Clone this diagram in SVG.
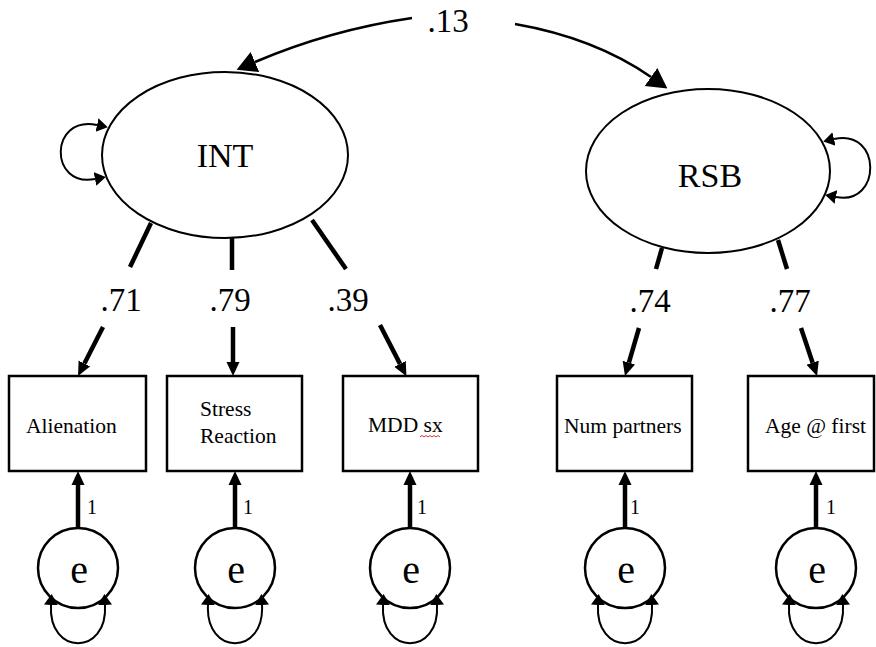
<svg xmlns="http://www.w3.org/2000/svg" width="876" height="647" viewBox="0 0 876 647">
<style>
.lat{fill:#fff;stroke:#000;stroke-width:2}
.box{fill:#fff;stroke:#000;stroke-width:2.5}
.err{fill:#fff;stroke:#000;stroke-width:2.5}
.big{font-size:34px;text-anchor:middle}
.lbl{font-size:21.5px}
.num{font-size:33px;text-anchor:middle}
.one{font-size:20px}
.ee{font-size:40px;text-anchor:middle}
.load{fill:none;stroke:#000;stroke-width:4.5}
.cov{fill:none;stroke:#000;stroke-width:2.5}
.loop{fill:none;stroke:#000;stroke-width:2}
</style>
<defs>
<marker id="ah" viewBox="0 -7 14 14" refX="0" refY="0" markerWidth="14" markerHeight="14" markerUnits="userSpaceOnUse" orient="auto"><path d="M0,-6.5 L14,0 L0,6.5 z" fill="#000"/></marker>
<marker id="ahL" viewBox="0 -12 20 24" refX="0" refY="0" markerWidth="20" markerHeight="24" markerUnits="userSpaceOnUse" orient="auto"><path d="M0,-11 L20,0 L0,11 z" fill="#000"/></marker>
<marker id="ahS" viewBox="0 -8 11 16" refX="0" refY="0" markerWidth="11" markerHeight="16" markerUnits="userSpaceOnUse" orient="auto-start-reverse"><path d="M0,-7 L11,0 L0,7 z" fill="#000"/></marker>
</defs>

<g id="connectors">
  <path class="cov" d="M412 18 Q330 30 255 62" marker-end="url(#ahL)"/>
  <path class="cov" d="M515 24 Q595 38 651 77" marker-end="url(#ahL)"/>
  <path class="loop" d="M97 125 C49 115 49 188 95 179" marker-start="url(#ahS)" marker-end="url(#ahS)"/>
  <path class="loop" d="M834 139 C882 128 882 206 836 197" marker-start="url(#ahS)" marker-end="url(#ahS)"/>
  <path class="load" d="M151 223 L130 267"/>
  <path class="load" d="M103 327 L84.4 363.5" marker-end="url(#ah)"/>
  <path class="load" d="M232 237 L232 270"/>
  <path class="load" d="M233 327 L233 362" marker-end="url(#ah)"/>
  <path class="load" d="M312 220 L346 269"/>
  <path class="load" d="M380 325 L400 363.9" marker-end="url(#ah)"/>
  <path class="load" d="M662 248 L656 269"/>
  <path class="load" d="M639 328 L628.9 362.6" marker-end="url(#ah)"/>
  <path class="load" d="M778 240 L787 269"/>
  <path class="load" d="M801 328 L812.6 362.7" marker-end="url(#ah)"/>
  <path class="load" d="M78 528 L78 485" marker-end="url(#ah)"/>
  <path class="load" d="M235 528 L235 485" marker-end="url(#ah)"/>
  <path class="load" d="M410 528 L410 485" marker-end="url(#ah)"/>
  <path class="load" d="M625 528 L625 485" marker-end="url(#ah)"/>
  <path class="load" d="M816 528 L816 485" marker-end="url(#ah)"/>
  <text class="num" x="448" y="32" font-family="Liberation Serif">.13</text>
  <text class="num" x="121" y="311" font-family="Liberation Serif">.71</text>
  <text class="num" x="230" y="311" font-family="Liberation Serif">.79</text>
  <text class="num" x="348" y="311" font-family="Liberation Serif">.39</text>
  <text class="num" x="650" y="312" font-family="Liberation Serif">.74</text>
  <text class="num" x="790" y="312" font-family="Liberation Serif">.77</text>
  <text class="one" x="87" y="514" font-family="Liberation Serif">1</text>
  <text class="one" x="243" y="514" font-family="Liberation Serif">1</text>
  <text class="one" x="417" y="514" font-family="Liberation Serif">1</text>
  <text class="one" x="630" y="514" font-family="Liberation Serif">1</text>
  <text class="one" x="826" y="514" font-family="Liberation Serif">1</text>
</g>

<g id="INT">
  <ellipse class="lat" cx="225" cy="155" rx="123" ry="83"/>
  <text class="big" x="225" y="167" font-family="Liberation Serif">INT</text>
</g>
<g id="RSB">
  <ellipse class="lat" cx="708" cy="171" rx="122" ry="82"/>
  <text class="big" x="710" y="187" font-family="Liberation Serif">RSB</text>
</g>

<g id="Alienation">
  <rect class="box" x="9" y="376" width="137" height="95"/>
  <text class="lbl" x="26" y="433" font-family="Liberation Serif">Alienation</text>
</g>
<g id="StressReaction">
  <rect class="box" x="167" y="376" width="135" height="95"/>
  <text class="lbl" x="200" y="416" font-family="Liberation Serif">Stress</text>
  <text class="lbl" x="200" y="443" font-family="Liberation Serif">Reaction</text>
</g>
<g id="MDDsx">
  <rect class="box" x="343" y="376" width="135" height="95"/>
  <text class="lbl" x="368" y="432" font-family="Liberation Serif">MDD sx</text>
  <path d="M420 437 l2 -1.5 l2 1.5 l2 -1.5 l2 1.5 l2 -1.5 l2 1.5 l2 -1.5 l2 1.5 l2 -1.5 l2 1.5" fill="none" stroke="#e03030" stroke-width="1"/>
</g>
<g id="NumPartners">
  <rect class="box" x="557" y="376" width="135" height="95"/>
  <text class="lbl" x="564" y="433" font-family="Liberation Serif">Num partners</text>
</g>
<g id="AgeFirst">
  <rect class="box" x="748" y="376" width="126" height="95"/>
  <text class="lbl" x="765" y="433" font-family="Liberation Serif">Age @ first</text>
</g>

<g id="e1" transform="translate(78,568)">
  <circle class="err" r="40"/>
  <text class="ee" x="1" y="15" font-family="Liberation Serif">e</text>
  <path class="loop" d="M-27 37 C-30 88 30 88 27 37" marker-start="url(#ahS)" marker-end="url(#ahS)"/>
</g>
<g id="e2" transform="translate(235,568)">
  <circle class="err" r="40"/>
  <text class="ee" x="1" y="15" font-family="Liberation Serif">e</text>
  <path class="loop" d="M-27 37 C-30 88 30 88 27 37" marker-start="url(#ahS)" marker-end="url(#ahS)"/>
</g>
<g id="e3" transform="translate(410,568)">
  <circle class="err" r="40"/>
  <text class="ee" x="1" y="15" font-family="Liberation Serif">e</text>
  <path class="loop" d="M-27 37 C-30 88 30 88 27 37" marker-start="url(#ahS)" marker-end="url(#ahS)"/>
</g>
<g id="e4" transform="translate(625,568)">
  <circle class="err" r="40"/>
  <text class="ee" x="1" y="15" font-family="Liberation Serif">e</text>
  <path class="loop" d="M-27 37 C-30 88 30 88 27 37" marker-start="url(#ahS)" marker-end="url(#ahS)"/>
</g>
<g id="e5" transform="translate(816,568)">
  <circle class="err" r="40"/>
  <text class="ee" x="1" y="15" font-family="Liberation Serif">e</text>
  <path class="loop" d="M-27 37 C-30 88 30 88 27 37" marker-start="url(#ahS)" marker-end="url(#ahS)"/>
</g>
</svg>
